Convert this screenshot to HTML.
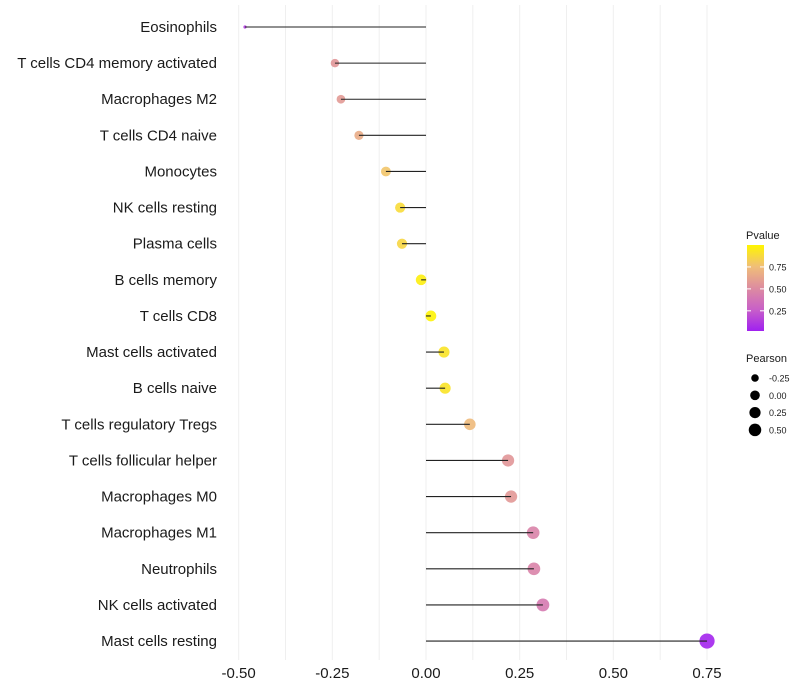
<!DOCTYPE html>
<html><head><meta charset="utf-8"><style>
body{margin:0;background:#fff;}
svg{display:block;font-family:"Liberation Sans",sans-serif;}
</style></head><body>
<svg id="chart" width="800" height="700"></svg>
<script>
const categories=["Eosinophils","T cells CD4 memory activated","Macrophages M2","T cells CD4 naive","Monocytes","NK cells resting","Plasma cells","B cells memory","T cells CD8","Mast cells activated","B cells naive","T cells regulatory  Tregs ","T cells follicular helper","Macrophages M0","Macrophages M1","Neutrophils","NK cells activated","Mast cells resting"];
const pearson=[-0.483,-0.243,-0.227,-0.179,-0.107,-0.069,-0.064,-0.013,0.013,0.048,0.051,0.117,0.219,0.227,0.286,0.288,0.312,0.75];
const pvalues=[0.1,0.55,0.57,0.66,0.78,0.88,0.86,0.97,0.99,0.92,0.92,0.73,0.55,0.56,0.45,0.45,0.4,0.02];
const xTicks=[-0.5,-0.25,0,0.25,0.5,0.75];
const xTickLabels=["-0.50","-0.25","0.00","0.25","0.50","0.75"];
const legendP=[0.25,0.5,0.75];
const legendPLabels=["0.25","0.50","0.75"];
const legendR=[-0.25,0,0.25,0.5];
const legendRLabels=["-0.25","0.00","0.25","0.50"];

const NS="http://www.w3.org/2000/svg";
const svg=document.getElementById('chart');
function mk(t,a,p){const e=document.createElementNS(NS,t);for(const k in a)e.setAttribute(k,a[k]);(p||svg).appendChild(e);return e;}
const x=v=>426+v*374.7;
const y=i=>27+i*36.12;
const rOf=v=>1.6+6*Math.sqrt(Math.max(0,(v+0.483)/1.233));
const stops=[[0,[160,32,240]],[0.25,[200,96,200]],[0.5,[221,140,160]],[0.75,[240,190,120]],[1,[255,245,0]]];
function col(p){for(let i=0;i<stops.length-1;i++){const[a,c1]=stops[i],[b,c2]=stops[i+1];if(p<=b){const t=(p-a)/(b-a);return 'rgb('+c1.map((c,j)=>Math.round(c+(c2[j]-c)*t)).join(',')+')';}}return 'rgb(255,245,0)';}

for(let v=-0.5;v<=0.76;v+=0.125){
  const g=mk('line',{x1:x(v),x2:x(v),y1:5,y2:660,stroke:'#efefef','stroke-width':1});
  
  
}
xTicks.forEach((v,i)=>{
  const t=mk('text',{x:x(v),y:678,'text-anchor':'middle','font-size':15,fill:'#1a1a1a'});
  t.textContent=xTickLabels[i];
  
  
});
categories.forEach((c,i)=>{
  const t=mk('text',{x:217,y:y(i)+5,'text-anchor':'end','font-size':15,fill:'#1a1a1a'});
  t.textContent=c;
  
  
  const pt=mk('circle',{cx:x(pearson[i]),cy:y(i),r:rOf(pearson[i]),fill:col(pvalues[i]),'fill-opacity':0.9});
  
  
  const ln=mk('line',{x1:x(0),x2:x(pearson[i]),y1:y(i),y2:y(i),stroke:'#222','stroke-width':1.1});
  
  
});
const lt=mk('text',{x:746,y:239,'font-size':11,fill:'#1a1a1a'});lt.textContent='Pvalue';


const defs=mk('defs',{});const lg=mk('linearGradient',{id:'pg',x1:0,y1:1,x2:0,y2:0},defs);
stops.forEach(s=>mk('stop',{offset:s[0],'stop-color':col(s[0])},lg));
const py=p=>331-(p-0.02)/(0.98)*86;
const cb=mk('rect',{x:747,y:245,width:17,height:86,fill:'url(#pg)'});


legendP.forEach((p,i)=>{
  mk('line',{x1:747,x2:751,y1:py(p),y2:py(p),stroke:'#fff'});mk('line',{x1:760,x2:764,y1:py(p),y2:py(p),stroke:'#fff'});
  const t=mk('text',{x:769,y:py(p)+3.5,'font-size':9,fill:'#1a1a1a'});t.textContent=legendPLabels[i];
  
  
});
const lt2=mk('text',{x:746,y:362,'font-size':11,fill:'#1a1a1a'});lt2.textContent='Pearson';


legendR.forEach((v,i)=>{
  const cy=378+i*17.3;
  const c=mk('circle',{cx:755,cy:cy,r:rOf(v)*0.9,fill:'#000'});
  
  
  const t=mk('text',{x:769,y:cy+3.5,'font-size':9,fill:'#1a1a1a'});t.textContent=legendRLabels[i];
  
  
});
</script>
</body></html>
